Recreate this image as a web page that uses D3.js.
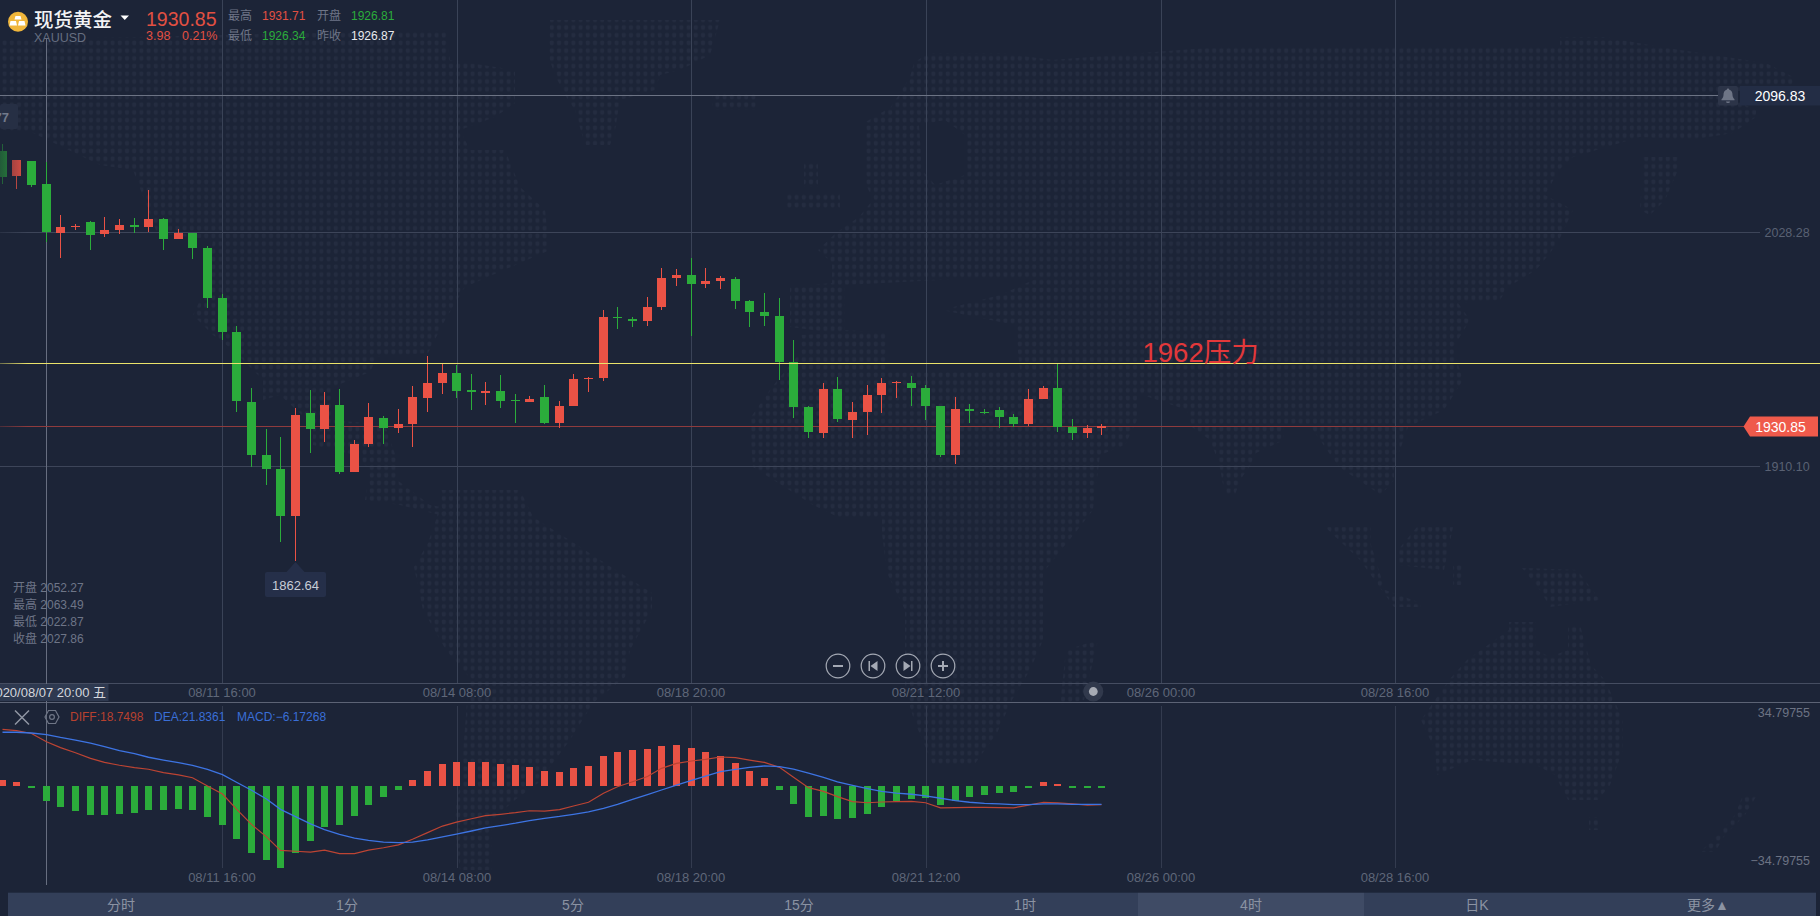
<!DOCTYPE html>
<html>
<head>
<meta charset="utf-8">
<script src="https://cdn.jsdelivr.net/npm/d3@7"></script>
<style>
html,body{margin:0;padding:0;background:#1c2437;overflow:hidden}
svg{display:block}
text{font-family:"Liberation Sans","Noto Sans CJK SC",sans-serif}
</style>
</head>
<body>
<svg id="c" width="1820" height="916"></svg>
<script>
// ---- candlestick series (4h bars) ----
const opens=[2068.8,2056.4,2063.8,2052.27,2027.7,2030.7,2033.1,2027.0,2029.0,2031.5,2030.5,2034.6,2024.5,2027.5,2020.0,1994.8,1977.7,1942.5,1915.8,1908.7,1885.1,1936.9,1928.9,1941.0,1907.2,1921.3,1934.4,1929.4,1931.4,1944.5,1952.0,1957.1,1948.5,1947.0,1948.0,1943.5,1942.5,1945.0,1931.9,1940.5,1954.0,1954.5,1985.2,1984.2,1983.2,1990.3,2004.9,2006.4,2001.9,2003.4,2004.4,1993.3,1987.8,1985.8,1962.6,1939.9,1926.9,1949.0,1933.4,1937.4,1946.0,1952.0,1952.0,1949.5,1940.5,1915.8,1938.9,1937.4,1938.4,1934.9,1931.4,1944.0,1949.5,1929.9,1926.9,1929.4];
const highs=[2072.3,2064.3,2063.8,2063.49,2036.6,2032.1,2033.6,2035.6,2034.6,2035.1,2049.2,2034.9,2029.5,2027.5,2021.0,1996.8,1980.7,1949.5,1928.9,1924.8,1939.4,1948.5,1947.5,1949.0,1923.3,1942.0,1935.4,1938.9,1950.5,1965.6,1961.6,1961.1,1956.6,1952.5,1956.1,1946.5,1945.5,1951.0,1943.0,1956.6,1955.0,1988.8,1990.3,1985.2,1995.3,2009.9,2009.4,2014.9,2009.9,2005.9,2005.4,1993.8,1997.3,1994.8,1973.7,1940.5,1952.0,1955.0,1942.5,1951.0,1954.5,1953.0,1955.6,1951.0,1940.5,1945.0,1941.5,1938.9,1939.9,1936.4,1949.0,1950.5,1961.6,1933.9,1930.9,1931.4];
const lows=[2052.2,2049.8,2050.8,2022.87,2015.1,2029.0,2019.1,2025.5,2027.0,2027.7,2028.0,2019.0,2024.5,2014.4,1989.8,1973.7,1937.4,1909.7,1900.7,1872.0,1862.64,1916.8,1922.3,1906.2,1907.2,1919.8,1921.3,1926.9,1919.8,1937.4,1946.5,1944.5,1938.4,1941.0,1939.4,1931.9,1942.5,1931.4,1929.4,1940.5,1947.5,1953.0,1979.2,1980.2,1980.7,1988.8,2000.9,1975.7,1999.8,1999.3,1989.3,1980.2,1980.7,1953.5,1934.4,1924.3,1924.3,1932.4,1924.3,1925.9,1936.9,1944.5,1940.5,1933.4,1914.8,1911.3,1931.9,1936.4,1929.4,1929.9,1930.4,1944.0,1927.4,1923.3,1924.3,1925.9];
const closes=[2055.9,2064.3,2051.8,2027.86,2030.5,2031.1,2026.5,2029.0,2031.5,2030.5,2034.6,2024.5,2027.5,2020.0,1995.0,1977.7,1943.0,1915.8,1908.7,1885.1,1935.9,1928.9,1941.0,1907.2,1921.3,1934.9,1929.4,1931.4,1945.0,1952.0,1957.1,1948.0,1947.5,1948.0,1943.0,1943.0,1944.0,1931.9,1940.5,1954.0,1954.5,1985.2,1984.7,1983.2,1990.3,2004.9,2006.4,2001.9,2003.4,2004.9,1993.3,1987.8,1985.8,1962.6,1939.9,1927.4,1949.0,1933.9,1937.4,1946.0,1952.0,1952.5,1949.5,1940.5,1915.8,1938.9,1937.9,1936.9,1934.9,1931.4,1944.0,1949.5,1929.9,1926.9,1929.4,1930.4];
// ---- MACD series ----
const macdHist=[2.55,1.70,-0.85,-6.17,-8.91,-10.6,-12.3,-12.3,-11.88,-11.46,-10.18,-10.18,-9.76,-10.18,-13.15,-16.55,-22.49,-28.43,-31.4,-34.8,-28.43,-23.34,-17.4,-16.55,-12.73,-8.06,-4.67,-1.70,2.55,6.36,9.33,10.18,10.18,10.18,9.33,8.91,8.06,6.36,5.94,7.64,8.49,12.73,14.43,15.27,15.7,16.97,17.4,16.12,14.43,12.73,9.76,6.36,3.39,-1.70,-7.64,-13.15,-12.73,-14.0,-13.58,-11.88,-8.91,-6.36,-5.52,-5.09,-8.06,-6.36,-4.67,-3.82,-2.97,-2.55,-0.85,1.70,0.85,-0.85,-0.85,-0.85];
const diffLine=[24.0,23.5,22.3,18.75,16.3,14.1,11.7,10.0,8.8,7.8,7.1,5.7,4.7,3.5,0,-3.4,-9.8,-16.3,-21.6,-27.3,-27.7,-28.1,-27.2,-28.7,-28.7,-27.2,-26.2,-25.0,-22.6,-19.8,-17.0,-15.3,-13.9,-12.6,-12.0,-11.3,-10.5,-10.7,-10.0,-8.5,-6.9,-3.1,-0.3,1.8,4.0,7.5,9.6,10.6,11.3,12.3,12.0,11.0,10.0,7.9,3.7,-0.7,-2.3,-4.5,-6.6,-7.1,-6.8,-6.6,-6.5,-7.1,-9.3,-9.2,-9.1,-9.1,-9.2,-9.3,-8.1,-6.9,-7.2,-7.6,-8.1,-7.9];
const deaLine=[22.8,22.8,22.5,21.84,20.6,19.5,18.2,16.7,15.0,13.7,12.2,11.0,9.9,8.8,7.1,4.8,1.6,-1.8,-5.5,-9.9,-13.0,-16.1,-18.5,-20.5,-22.1,-23.1,-23.8,-24.0,-23.8,-22.9,-21.6,-20.4,-19.1,-17.8,-16.8,-15.8,-14.7,-13.7,-12.9,-12.0,-11.0,-9.5,-7.8,-5.7,-3.7,-1.7,0.4,2.4,4.2,6.1,7.1,7.9,8.5,8.2,7.2,5.5,3.7,1.8,0.3,-1.1,-2.3,-3.0,-3.5,-4.2,-5.2,-6.2,-6.9,-7.4,-7.6,-7.9,-7.9,-7.6,-7.6,-7.8,-7.8,-7.8];
// ---- axis ticks and labels ----
const tickIndex=[15,31,47,63,79,95];
const tickLabels=["08/11 16:00","08/14 08:00","08/18 20:00","08/21 12:00","08/26 00:00","08/28 16:00"];
const priceTicks=[2028.28,1910.10];
const crossIndex=3, crossLabel="2020/08/07 20:00 五";
const crossPrice=2096.83;
const lastPriceDrawn=1930.2, lastPriceLabel="1930.85";
const resistance=1962, resistanceLabel="1962压力";
const lowLabel="1862.64", lowIndex=20;
const macdBounds=[34.79755,-34.79755];
const tabs=["分时","1分","5分","15分","1时","4时","日K","更多▲"];
const activeTab=5;
const hoverRows=[["开盘","2052.27"],["最高","2063.49"],["最低","2022.87"],["收盘","2027.86"]];

const BG="#1c2437",GREEN="#2bac3b",RED="#ea5245";
const svg=d3.select("#c");
const defs=svg.append("defs");

// world-map dotted backdrop (decoration)
const pat=defs.append("pattern").attr("id","dots").attr("patternUnits","userSpaceOnUse")
  .attr("width",7.2).attr("height",7.72).attr("x",1).attr("y",0.5);
pat.append("ellipse").attr("cx",3.6).attr("cy",3.86).attr("rx",2.1).attr("ry",2.4).attr("fill","#242c40");
const land=[
"M0,40L446,30L450,60L515,70L515,103L495,117L460,130L470,150L505,150L520,187L545,210L550,250L520,263L465,287L445,320L428,353L377,357L370,372L333,387L333,420L385,425L397,460L397,480L430,505L470,512L440,515L400,505L365,500L370,470L355,455L313,445L313,425L280,395L263,400L263,380L233,350L213,335L193,315L205,290L213,240L157,233L133,170L100,165L33,133L0,130Z",
"M441,490L520,490L533,517L574,543L611,567L652,593L652,610L630,650L625,677L593,703L570,740L538,783L515,800L492,820L492,870L460,870L453,820L460,783L464,740L469,677L446,650L423,610L414,567L428,543L437,517Z",
"M550,20L720,20L710,55L680,70L660,75L655,90L620,100L615,130L610,145L585,145L575,110L565,95L555,75L548,55Z",
"M712,92L758,92L758,110L712,110Z",
"M928,53L1001,53L1052,60L1219,47L1560,47L1560,37L1605,37L1660,47L1700,53L1766,63L1793,77L1793,85L1720,93L1756,110L1756,117L1733,133L1690,140L1640,137L1573,157L1559,170L1545,195L1573,210L1559,240L1550,253L1536,270L1508,287L1500,300L1458,303L1470,320L1453,348L1463,380L1444,410L1408,427L1394,467L1394,480L1381,495L1339,467L1320,440L1311,427L1284,427L1284,440L1256,453L1252,463L1240,480L1235,495L1225,495L1219,463L1210,440L1192,427L1187,410L1137,393L1137,420L1125,445L1100,455L1093,510L1075,533L1061,550L1043,573L1043,640L1030,670L1012,700L997,733L974,765L933,765L914,720L905,690L905,610L887,573L882,533L882,517L838,517L813,505L753,467L749,420L772,387L800,353L800,335L836,333L790,327L790,287L832,283L832,263L818,250L836,233L859,217L873,200L864,180L864,123L891,107L900,93L910,77L914,63Z"+
"M919,125L945,120L965,135L965,175L935,185L922,170Z"+
"M845,285L978,278L1038,278L1000,295L942,310L1015,325L1020,370L887,370L887,333L845,330Z",
"M786,193L840,193L840,210L786,210Z","M804,163L818,163L818,187L804,187Z",
"M1642,157L1678,157L1678,170L1665,200L1650,215L1640,210L1642,180Z",
"M1325,527L1371,527L1371,545L1385,590L1421,603L1421,607L1394,607L1360,560Z",
"M1417,527L1453,527L1444,570L1398,565L1398,550Z","M1453,565L1463,565L1463,585L1453,585Z",
"M1522,568L1577,570L1600,600L1550,607L1540,590Z","M1066,650L1098,640L1084,700L1060,705Z",
"M1509,622L1536,622L1536,650L1550,657L1568,650L1568,625L1580,625L1591,665L1605,680L1623,720L1623,750L1610,785L1598,800L1568,800L1555,775L1536,765L1472,760L1437,775L1435,750L1421,720L1449,680L1467,660L1481,650L1509,630Z",
"M1589,817L1598,817L1598,830L1589,830Z",
"M1743,795L1757,795L1745,815L1725,835L1715,852L1700,852L1718,835L1735,815Z"];
svg.append("g").selectAll("path").data(land).join("path").attr("d",d=>d).attr("fill","url(#dots)").attr("fill-rule","evenodd");

// scales
const x=d3.scaleLinear().domain([0,75]).range([2.2,1101.7]);
const y=d3.scaleLinear().domain([1910.10,2096.83]).range([466.4,95.3]);
const yM=d3.scaleLinear().domain([-34.79755,34.79755]).range([868,704]);
const px=i=>Math.floor(x(i))+0.5;
const py=v=>Math.round(y(v));
const gridX=d=>Math.round(x(d)+.2)+.5;

// main-pane x axis with grid
const axisX=svg.append("g").attr("transform","translate(0,683)")
  .call(d3.axisBottom(x).tickValues(tickIndex).tickFormat((d,i)=>tickLabels[i]).tickSizeInner(-683).tickSizeOuter(0));
axisX.select(".domain").remove();
axisX.selectAll(".tick line").attr("stroke","#3a4357");
axisX.selectAll(".tick").attr("transform",d=>`translate(${gridX(d)},0)`);
axisX.selectAll("text").attr("x",-.5).attr("y",9.7).attr("dy",".35em").attr("fill","#5f6779").attr("font-size",13).style("font-family",'"Liberation Sans"');

// MACD-pane x axis with grid
const axisXM=svg.append("g").attr("transform","translate(0,868)")
  .call(d3.axisBottom(x).tickValues(tickIndex).tickFormat((d,i)=>tickLabels[i]).tickSizeInner(-162).tickSizeOuter(0));
axisXM.select(".domain").remove();
axisXM.selectAll(".tick line").attr("stroke","#333b4f");
axisXM.selectAll(".tick").attr("transform",d=>`translate(${gridX(d)},0)`);
axisXM.selectAll("text").attr("x",-.5).attr("y",9.3).attr("dy",".35em").attr("fill","#5f6779").attr("font-size",13).style("font-family",'"Liberation Sans"');

// price axis (grid ticks at right)
const axisY=svg.append("g").attr("transform","translate(1760,0)")
  .call(d3.axisRight(y).tickValues(priceTicks).tickFormat(d3.format(".2f")).tickSizeInner(-1760).tickSizeOuter(0));
axisY.select(".domain").remove();
axisY.selectAll(".tick").attr("transform",d=>`translate(0,${py(d)+.5})`);
axisY.selectAll(".tick line").attr("stroke","#3d4559");
axisY.selectAll("text").attr("x",4.5).attr("fill","#596173").attr("font-size",12.5).style("font-family",'"Liberation Sans"');

// separators
[[683.5,"#454d61"],[702.5,"#5c6375"]].forEach(([yy,c])=>svg.append("line").attr("x1",0).attr("x2",1820).attr("y1",yy).attr("y2",yy).attr("stroke",c));

// crosshair
svg.append("line").attr("x1",gridX(crossIndex)).attr("x2",gridX(crossIndex)).attr("y1",38).attr("y2",885).attr("stroke","#676e80");
svg.append("line").attr("x1",0).attr("x2",1720).attr("y1",py(crossPrice)+.5).attr("y2",py(crossPrice)+.5).attr("stroke","#6c7384");

// last price line
svg.append("line").attr("x1",0).attr("x2",1744).attr("y1",py(lastPriceDrawn)+.5).attr("y2",py(lastPriceDrawn)+.5).attr("stroke","#8f3b3d");

// candles
const idx=d3.range(opens.length);
const cg=svg.append("g").attr("shape-rendering","crispEdges");
const col=i=>closes[i]>=opens[i]?RED:GREEN;
cg.selectAll("line").data(idx).join("line")
  .attr("x1",px).attr("x2",px)
  .attr("y1",i=>py(highs[i])).attr("y2",i=>py(lows[i]))
  .attr("stroke",col);
cg.selectAll("rect").data(idx).join("rect")
  .attr("x",i=>Math.floor(x(i))-4).attr("width",9)
  .attr("y",i=>Math.min(py(opens[i]),py(closes[i])))
  .attr("height",i=>Math.max(1,Math.abs(py(opens[i])-py(closes[i]))))
  .attr("fill",col);

// resistance line on top
svg.append("line").attr("x1",0).attr("x2",1820).attr("y1",py(resistance)+.5).attr("y2",py(resistance)+.5).attr("stroke","#ebe36a").attr("stroke-width",1.2);
svg.append("text").attr("x",1142.5).attr("y",362).attr("font-size",27.5).attr("fill","#e3383a").text(resistanceLabel);

// MACD histogram
const mg=svg.append("g").attr("shape-rendering","crispEdges");
mg.selectAll("rect").data(idx).join("rect")
  .attr("x",i=>Math.floor(x(i))-3).attr("width",7)
  .attr("y",i=>Math.round(Math.min(yM(0),yM(macdHist[i]))))
  .attr("height",i=>Math.max(2,Math.round(Math.abs(yM(macdHist[i])-yM(0)))))
  .attr("fill",i=>macdHist[i]>=0?RED:GREEN);
const line=arr=>d3.line().x((d,i)=>px(i)).y(d=>yM(d))(arr);
svg.append("path").attr("d",line(diffLine)).attr("fill","none").attr("stroke","#bd4433").attr("stroke-width",1.2);
svg.append("path").attr("d",line(deaLine)).attr("fill","none").attr("stroke","#3d74e3").attr("stroke-width",1.3);

// left-edge fade
const fade=defs.append("linearGradient").attr("id","fade");
fade.append("stop").attr("offset",0).attr("stop-color",BG).attr("stop-opacity",.6);
fade.append("stop").attr("offset",1).attr("stop-color",BG).attr("stop-opacity",0);
svg.append("rect").attr("x",0).attr("y",130).attr("width",28).attr("height",300).attr("fill","url(#fade)");

// hover value box at left
svg.append("rect").attr("x",0).attr("y",104).attr("width",18).attr("height",25).attr("rx",2).attr("fill","#262f44");
svg.append("text").attr("x",9).attr("y",117).attr("dy",".35em").attr("text-anchor","end").attr("font-size",13).attr("font-weight","bold").attr("fill","#727a8b").text("77");

// right labels
svg.append("rect").attr("x",1718).attr("y",86).attr("width",20).attr("height",19.5).attr("rx",2).attr("fill","#2c3448");
svg.append("path").attr("d","M1728,88.5a1.3,1.3 0 0 1 1.3,1.3c2.6,.8 3.2,3 3.2,5.2c0,2 1,3.2 2,4.3v.9h-13v-.9c1,-1.1 2,-2.3 2,-4.3c0,-2.2 .6,-4.4 3.2,-5.2a1.3,1.3 0 0 1 1.3,-1.3zM1726,101.5h4a2,1.6 0 0 1 -4,0z").attr("fill","#6e7586");
svg.append("rect").attr("x",1740).attr("y",86).attr("width",80).attr("height",19.5).attr("fill","#232d45");
svg.append("text").attr("x",1780).attr("y",96).attr("dy",".35em").attr("text-anchor","middle").attr("font-size",14).attr("fill","#fff").text(crossPrice.toFixed(2));
const ly=py(lastPriceDrawn)+.5;
svg.append("path").attr("d",`M1743.5,${ly}L1750,${ly-10}H1818V${ly+10}H1750Z`).attr("fill","#ef5a4b");
svg.append("text").attr("x",1780.5).attr("y",ly).attr("dy",".36em").attr("text-anchor","middle").attr("font-size",14).attr("font-weight",500).attr("fill","#fff").text(lastPriceLabel);

// MACD bounds
svg.selectAll(".mb").data(macdBounds).join("text").attr("class","mb")
  .attr("x",1810).attr("y",(d,i)=>i?860.3:712.3).attr("dy",".35em").attr("text-anchor","end").attr("font-size",12.5).attr("fill","#6c7384")
  .text(d=>d<0?"−"+Math.abs(d):d);

// cross date tag
svg.append("rect").attr("x",0).attr("y",684).attr("width",108.5).attr("height",17).attr("fill","#2e3950");
svg.append("text").attr("x",106).attr("y",692.5).attr("dy",".35em").attr("text-anchor","end").attr("font-size",13).attr("fill","#d4d7dd").text(crossLabel);

// low marker
const lx=px(lowIndex),lt=py(lows[lowIndex])+1;
svg.append("path").attr("d",`M${lx},${lt}L${lx+9},${lt+10}H324a2,2 0 0 1 2,2V595a2,2 0 0 1 -2,2H267a2,2 0 0 1 -2,-2V${lt+12}a2,2 0 0 1 2,-2H${lx-9}Z`).attr("fill","#252f49");
svg.append("text").attr("x",lx).attr("y",585).attr("dy",".35em").attr("text-anchor","middle").attr("font-size",13).attr("fill","#c8cdd7").text(lowLabel);

// hover rows
hoverRows.forEach((r,i)=>{
  svg.append("text").attr("x",13).attr("y",587.5+i*17).attr("dy",".35em").attr("font-size",12).attr("fill","#6e7587").text(r[0]+" "+r[1]);
});

// nav buttons
const nav=svg.append("g").attr("fill","none").attr("stroke","#a4a9b4").attr("stroke-width",1.2);
[838,873,908,943].forEach(cx=>nav.append("circle").attr("cx",cx).attr("cy",666).attr("r",11.8).attr("fill",BG));
nav.append("path").attr("d","M833,666h10").attr("stroke-width",2);
nav.append("path").attr("d","M938,666h10M943,661v10").attr("stroke-width",2);
svg.append("path").attr("d","M868.5,661h1.5v10h-1.5zM877.5,661v10l-7,-5z M912.5,661h-1.5v10h1.5zM903.5,661v10l7,-5z").attr("fill","#a4a9b4");
svg.append("circle").attr("cx",1093.3).attr("cy",691.5).attr("r",10).attr("fill","#31394c");
svg.append("circle").attr("cx",1093.3).attr("cy",691.5).attr("r",4.4).attr("fill","#a7abb4");

// MACD legend
svg.append("path").attr("d","M15,710.5L29,724.5M29,710.5L15,724.5").attr("stroke","#9096a3").attr("stroke-width",1.5).attr("fill","none");
svg.append("path").attr("d","M45,717L48.5,710.5H55.5L59,717L55.5,723.5H48.5Z").attr("fill","none").attr("stroke","#6f7686").attr("stroke-width",1.2);
svg.append("circle").attr("cx",52).attr("cy",717).attr("r",2.4).attr("fill","none").attr("stroke","#6f7686").attr("stroke-width",1.2);
[["DIFF:18.7498",70,"#b8412f"],["DEA:21.8361",154,"#3a6fd8"],["MACD:−6.17268",237,"#3a6fd8"]].forEach(([t,xx,c])=>
  svg.append("text").attr("x",xx).attr("y",717).attr("dy",".35em").attr("font-size",12).attr("fill",c).text(t));

// period tabs
const tabW=226;
svg.selectAll(".tab").data(tabs).join("rect").attr("class","tab")
  .attr("x",(d,i)=>8+i*tabW).attr("y",892.7).attr("width",tabW).attr("height",24)
  .attr("fill",(d,i)=>i===activeTab?"#3f4b65":"#333f59");
svg.selectAll(".tabt").data(tabs).join("text").attr("class","tabt")
  .attr("x",(d,i)=>8+tabW/2+i*tabW+(i===7?5:0)).attr("y",905).attr("dy",".35em").attr("text-anchor","middle").attr("font-size",14).attr("fill","#8b93a3").text(d=>d);

// header
svg.append("circle").attr("cx",18).attr("cy",21.7).attr("r",10).attr("fill","#f0b63b");
svg.append("path").attr("d","M15.5,16h5l1,3.5h-7zM10.5,21h5.5l1,4.5h-7.5zM19,21h5.5l1,4.5h-7.5z").attr("fill","#fff");
svg.append("text").attr("x",34).attr("y",20).attr("dy",".35em").attr("font-size",19.5).attr("font-weight",500).attr("fill","#f2f3f5").text("现货黄金");
svg.append("path").attr("d","M120.5,15.5h8.5l-4.25,4.6z").attr("fill","#fff");
svg.append("text").attr("x",34).attr("y",38).attr("dy",".35em").attr("font-size",12.5).attr("fill","#666e80").text("XAUUSD");
svg.append("text").attr("x",146).attr("y",19).attr("dy",".35em").attr("font-size",19.5).attr("fill","#e25042").text("1930.85");
const hdr=[["3.98",146,35.5,"#e25042",12.5],["0.21%",182,35.5,"#e25042",12.5],
 ["最高",228,16,"#6e7587",12],["1931.71",262,16,"#e25042",12],["开盘",317,16,"#6e7587",12],["1926.81",351,16,GREEN,12],
 ["最低",228,35.5,"#6e7587",12],["1926.34",262,35.5,GREEN,12],["昨收",317,35.5,"#6e7587",12],["1926.87",351,35.5,"#e8eaee",12]];
hdr.forEach(([t,xx,yy,c,s])=>svg.append("text").attr("x",xx).attr("y",yy).attr("dy",".35em").attr("font-size",s).attr("fill",c).text(t));
</script>
</body>
</html>
